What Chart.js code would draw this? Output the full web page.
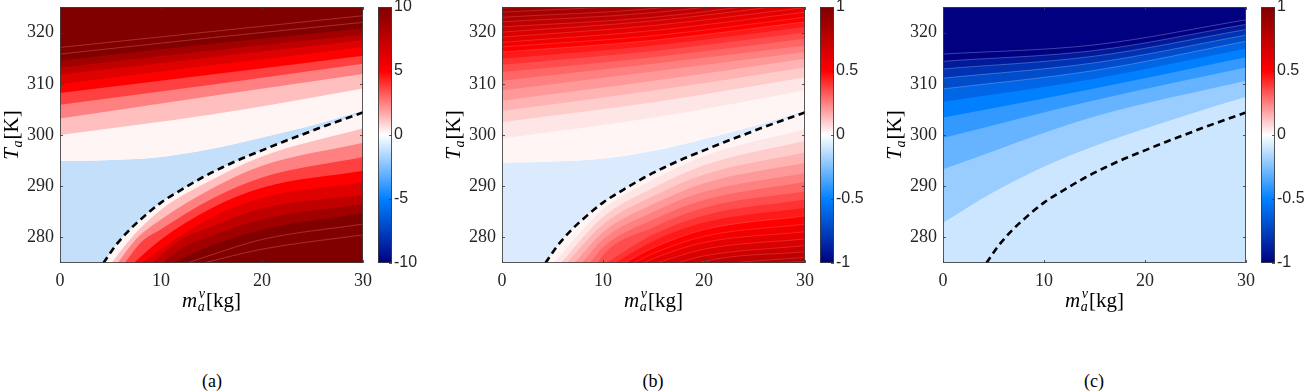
<!DOCTYPE html>
<html>
<head>
<meta charset="utf-8">
<title>contour panels</title>
<script src="https://cdn.jsdelivr.net/npm/chart.js@4.4.1/dist/chart.umd.min.js"></script>
<style>
  body { margin: 0; width: 1310px; height: 391px; background: #fff; position: relative; overflow: hidden; }
  canvas { position: absolute; }
  .cap { position: absolute; top: 371px; width: 60px; text-align: center; font: 18px "Liberation Serif", serif; line-height: 20px; color: #000; }
</style>
</head>
<body>
<canvas id="plotA" width="380" height="330" style="left:0px;top:0px"></canvas>
<canvas id="plotB" width="380" height="330" style="left:442px;top:0px"></canvas>
<canvas id="plotC" width="380" height="330" style="left:883px;top:0px"></canvas>
<canvas id="barA" width="72" height="290" style="left:370px;top:-13px"></canvas>
<canvas id="barB" width="72" height="290" style="left:812px;top:-13px"></canvas>
<canvas id="barC" width="57" height="290" style="left:1253px;top:-13px"></canvas>
<div class="cap" style="left:182px">(a)</div>
<div class="cap" style="left:623px">(b)</div>
<div class="cap" style="left:1064px">(c)</div>
<script>
const xTicks = [0, 10, 20, 30];
const yTicks = [280, 290, 300, 310, 320];
const barTicksA = [-10, -5, 0, 5, 10];
const barTicksB = [-1, -0.5, 0, 0.5, 1];

// dashed curve, same in all three panels  [m_a^v, T_a]
const dashLine = [[4.3, 275], [5.5, 278.4], [7, 281.7], [8.5, 284.4], [10, 286.8], [12, 289.3], [14, 291.6],
  [16, 293.6], [18, 295.4], [20, 297.0], [22, 298.6], [24, 300.1], [26, 301.6], [28, 303.0], [30, 304.4]];

// ---- panel (a) ----
const aLevels = [0, 1.25, 2.5, 3.75, 5, 6.25, 7.5, 8.75, 10];
const aUpper = [
  [[0, 294.9], [5, 295.1], [10, 295.7], [15, 297.3], [20, 299.5], [25, 301.9], [30, 304.8]],
  [[0, 300.0], [15, 304.0], [30, 309.1]],
  [[0, 303.2], [15, 307.6], [30, 311.9]],
  [[0, 305.9], [15, 309.8], [30, 313.9]],
  [[0, 308.2], [15, 311.8], [30, 315.5]],
  [[0, 309.9], [15, 313.6], [30, 317.2]],
  [[0, 311.8], [15, 315.2], [30, 318.5]],
  [[0, 313.2], [15, 316.5], [30, 319.6]],
  [[0, 314.5], [15, 317.8], [30, 320.8]]
];
const aLower = [
  dashLine,
  [[5.1, 275], [7, 279.8], [10, 285.4], [15, 291.2], [20, 295.8], [30, 301.3]],
  [[5.7, 275], [7.5, 279.6], [10, 283.5], [15, 289.5], [20, 294.0], [30, 298.5]],
  [[6.4, 275], [8, 279.0], [10, 281.6], [15, 287.5], [20, 291.7], [30, 295.7]],
  [[7.3, 275], [10, 279.6], [15, 285.7], [20, 289.7], [30, 293.0]],
  [[8.1, 275], [10, 277.8], [15, 283.9], [20, 287.7], [30, 290.7]],
  [[9.1, 275], [12, 279.6], [15, 282.1], [20, 285.7], [30, 288.3]],
  [[10.1, 275], [12, 277.8], [15, 280.3], [20, 283.5], [30, 286.5]],
  [[11.2, 275], [15, 278.4], [20, 281.5], [30, 284.7]]
];
const aFaint = [
  [[0, 315.8], [15, 319.0], [30, 322.0]],
  [[0, 317.1], [15, 320.2], [30, 323.3]],
  [[12.6, 275], [15, 276.6], [20, 279.6], [30, 282.6]],
  [[14.2, 275], [20, 277.7], [30, 280.5]]
];

// ---- panel (b) ----
const bLevels = [0, 0.05, 0.1, 0.15, 0.2, 0.25, 0.3, 0.35, 0.4, 0.45, 0.5, 0.55, 0.6, 0.65, 0.7, 0.75, 0.8, 0.85, 0.9, 0.95];
const bBlueEdge = [[0, 294.6], [5, 294.8], [10, 295.4], [15, 296.9], [20, 299.2], [25, 301.8], [30, 304.8]];
const bUpperX = [0, 15, 30];
const bUpperAt0 = [294.6, 299.3, 302.5, 304.7, 306.7, 308.7, 310.6, 312.3, 313.7, 314.9, 316.2, 317.2, 318.1, 319.1, 320.1, 321.1, 322.1, 323.0, 324.0, 324.8];
const bUpperAt15 = [296.9, 303.4, 306.4, 308.7, 310.6, 312.4, 313.9, 315.2, 316.4, 317.5, 318.5, 319.4, 320.4, 321.4, 322.3, 323.0, 323.9, 324.7, 325.6, 326.4];
const bUpperAt30 = [304.8, 308.7, 311.3, 313.2, 314.9, 316.2, 317.5, 318.8, 320.0, 321.1, 322.1, 323.0, 324.0, 324.9, 325.8, 326.6, 327.4, 328.2, 329.0, 329.8];
// lower family: where each level meets the bottom edge, then T at x = 10, 15, 20, 30
const bLowerCross = [5.1, 5.8, 6.4, 7.2, 7.9, 8.7, 9.5, 10.3, 11.2, 12.1, 13.0, 14.0, 15.3, 17.3, 19.6, 22.5, 26.5];
const bLowerX = [10, 15, 20, 30];
const bLowerAt10 = [285.5, 284.0, 282.5, 281.0, 279.6, 278.1, 276.6, null, null, null, null, null, null, null, null, null, null];
const bLowerAt15 = [291.3, 289.7, 288.1, 286.5, 285.0, 283.5, 282.0, 280.6, 279.3, 278.0, 276.9, 275.9, null, null, null, null, null];
const bLowerAt20 = [295.9, 294.1, 292.3, 290.6, 288.9, 287.3, 285.8, 284.3, 282.9, 281.5, 280.2, 279.0, 277.7, 276.4, 275.3, null, null];
const bLowerAt30 = [301.1, 298.9, 296.6, 294.6, 292.6, 290.8, 289.0, 287.4, 285.8, 284.2, 282.6, 281.1, 279.7, 278.4, 277.2, 276.1, 275.3];

// ---- panel (c) ----
const cLevels = [-0.1, -0.2, -0.3, -0.4, -0.5, -0.6, -0.7, -0.8, -0.9, -1.0];
const cLightEdge = [[0, 282.8], [5, 288.8], [10, 293.8], [15, 297.8], [20, 301.2], [25, 304.4], [30, 307.4]];
const cUpperX = [0, 15, 30];
const cUpperAt0 = [282.8, 293.3, 299.4, 303.4, 306.5, 309.0, 311.1, 312.9, 314.4, 315.8];
const cUpperAt15 = [297.8, 303.6, 306.8, 309.1, 311.0, 312.6, 314.1, 315.4, 316.5, 317.6];
const cUpperAt30 = [307.4, 310.6, 313.2, 315.2, 316.9, 318.3, 319.5, 320.6, 321.6, 322.5];

const ink = '#262626';
const frameInk = 'rgba(60,60,60,0.85)';
const tickFont = { family: '"Liberation Serif", serif', size: 18 };
const barFont = { family: '"Liberation Sans", Arial, sans-serif', size: 16 };

const cmapStops = [[-1, [0, 0, 128]], [-0.5, [0, 128, 255]], [0, [255, 255, 255]], [0.5, [255, 0, 0]], [1, [128, 0, 0]]];

function cmap(v) {
    v = Math.max(-1, Math.min(1, v));
    for (let i = 0; i < cmapStops.length - 1; i++) {
        const [v0, c0] = cmapStops[i];
        const [v1, c1] = cmapStops[i + 1];
        if (v <= v1) {
            const t = (v - v0) / (v1 - v0);
            return "rgb(" + c0.map((c, j) => Math.round(c + (c1[j] - c) * t)).join(",") + ")";
        }
    }
    return "rgb(128,0,0)";
}

function bandColor(level, scale) {
    return level === 0 ? "#fff5f5" : cmap(level / scale);
}

function pts(curve) {
    return curve.map(p => ({ x: p[0], y: p[1] }));
}

function area(curve, color, fill, seam) {
    return {
        data: pts(curve),
        backgroundColor: color,
        borderColor: seam ? seam : "rgba(0,0,0,0)",
        borderWidth: seam ? 0.7 : 0,
        fill: fill,
        pointRadius: 0,
        cubicInterpolationMode: "monotone",
    };
}

function thinLine(curve, color) {
    return { data: pts(curve), borderColor: color, borderWidth: 0.7, fill: false, pointRadius: 0, cubicInterpolationMode: "monotone" };
}

function dashed() {
    return { data: pts(dashLine), borderColor: "#000", borderWidth: 2.6, borderDash: [7, 4.5], fill: false, pointRadius: 0, cubicInterpolationMode: "monotone" };
}

// build point lists for (b)
const bUpperCols = [bUpperAt0, bUpperAt15, bUpperAt30];
const bUpper = bLevels.map((lv, k) => k === 0 ? bBlueEdge : bUpperX.map((x, i) => [x, bUpperCols[i][k]]));
const bLowerCols = [bLowerAt10, bLowerAt15, bLowerAt20, bLowerAt30];
const bLower = [dashLine].concat(bLowerCross.map((x0, k) =>
    [[x0, 275]].concat(bLowerX.map((x, i) => [x, bLowerCols[i][k]]).filter(p => p[1] !== null && p[0] > x0))));

const cUpperCols = [cUpperAt0, cUpperAt15, cUpperAt30];
const cUpper = cLevels.map((lv, k) => k === 0 ? cLightEdge : cUpperX.map((x, i) => [x, cUpperCols[i][k]]));

function redSets(upper, lower, levels, scale, blue, seamFrom, faint) {
    const sets = [area(upper[0], blue, "start")];
    const seamOf = k => (levels[k] / scale >= seamFrom ? "rgba(255,150,150,0.35)" : null);
    upper.forEach((c, k) => sets.push(area(c, bandColor(levels[k], scale), "end", seamOf(k))));
    lower.forEach((c, k) => sets.push(area(c, bandColor(levels[k], scale), "start", seamOf(k))));
    faint.forEach(c => sets.push(thinLine(c, "rgba(255,140,140,0.45)")));
    sets.push(dashed());
    return sets;
}

function blueSets() {
    const sets = [area(cUpper[0], cmap(cLevels[0]), "start")];
    cUpper.forEach((c, k) => {
        const seam = cLevels[k] <= -0.6 ? "rgba(190,210,255,0.45)" : null;
        sets.push(area(c, cmap(Math.max(-1, cLevels[k] - 0.1)), "end", seam));
    });
    sets.push(dashed());
    return sets;
}

function mathFont(size, italic) {
    return (italic ? "italic " : "") + size + 'px "Liberation Serif", serif';
}

function drawMath(ctx, pieces, cx, base) {
    const widths = pieces.map(p => {
        if (p.text) {
            ctx.font = mathFont(p.size, p.it);
            return ctx.measureText(p.text).width;
        }
        ctx.font = mathFont(p.size, true);
        return Math.max(ctx.measureText(p.sub || "").width, ctx.measureText(p.sup || "").width + 1) + 1.5;
    });
    let x = cx - widths.reduce((s, w) => s + w, 0) / 2;
    ctx.textAlign = "left";
    ctx.textBaseline = "alphabetic";
    ctx.fillStyle = "#000";
    pieces.forEach((p, i) => {
        if (p.text) {
            ctx.font = mathFont(p.size, p.it);
            ctx.fillText(p.text, x, base);
        } else {
            ctx.font = mathFont(p.size, true);
            if (p.sub) ctx.fillText(p.sub, x + 0.5, base + 4);
            if (p.sup) ctx.fillText(p.sup, x + 1.5, base - 9);
        }
        x += widths[i];
    });
}

const axisTitles = {
    id: "axisTitles",
    afterDraw(chart) {
        const { ctx, chartArea: a } = chart;
        ctx.save();
        drawMath(ctx, [{ text: "m", it: true, size: 21 }, { sub: "a", sup: "v", size: 14 }, { text: "[kg]", size: 21 }],
            (a.left + a.right) / 2, a.bottom + 44);
        ctx.translate(a.left - 42, (a.top + a.bottom) / 2);
        ctx.rotate(-Math.PI / 2);
        drawMath(ctx, [{ text: "T", it: true, size: 21 }, { sub: "a", size: 14 }, { text: "[K]", size: 21 }], 0, 0);
        ctx.restore();
    },
};

const frame = {
    id: "frame",
    afterDatasetsDraw(chart) {
        const { ctx, chartArea: a, scales } = chart;
        ctx.save();
        ctx.strokeStyle = frameInk;
        ctx.lineWidth = 1;
        ctx.beginPath();
        xTicks.forEach(v => {
            const px = Math.round(scales.x.getPixelForValue(v)) + 0.5;
            ctx.moveTo(px, a.bottom); ctx.lineTo(px, a.bottom - 3);
            ctx.moveTo(px, a.top); ctx.lineTo(px, a.top + 3);
        });
        yTicks.forEach(v => {
            const py = Math.round(scales.y.getPixelForValue(v)) + 0.5;
            ctx.moveTo(a.left, py); ctx.lineTo(a.left + 3, py);
            ctx.moveTo(a.right, py); ctx.lineTo(a.right - 3, py);
        });
        ctx.stroke();
        ctx.strokeRect(a.left + 0.5, a.top + 0.5, a.width - 1, a.height - 1);
        ctx.restore();
    },
};

function noEdgePadding(s) {
    s.paddingTop = 0;
    s.paddingBottom = 0;
    s.paddingLeft = 0;
    s.paddingRight = 0;
}

const hiddenGrid = { display: false, drawTicks: false, tickLength: 0 };

function makePanel(id, datasets) {
    return new Chart(document.getElementById(id), {
        type: "line",
        data: { datasets: datasets.map((d, i) => Object.assign(d, { order: -i })) },
        options: {
            responsive: false,
            animation: false,
            events: [],
            layout: { padding: { top: 7, right: 17, left: 0, bottom: 0 } },
            plugins: { legend: { display: false }, tooltip: { enabled: false } },
            scales: {
                x: {
                    type: "linear", min: 0, max: 30,
                    afterBuildTicks: s => { s.ticks = xTicks.map(v => ({ value: v })); },
                    afterFit: s => { s.height = 67; noEdgePadding(s); },
                    grid: hiddenGrid, border: { display: false },
                    ticks: { font: tickFont, color: ink, padding: 7, maxRotation: 0 },
                },
                y: {
                    type: "linear", min: 275, max: 325,
                    afterBuildTicks: s => { s.ticks = yTicks.map(v => ({ value: v })); },
                    afterFit: s => { s.width = 60; noEdgePadding(s); },
                    grid: hiddenGrid, border: { display: false },
                    ticks: { font: tickFont, color: ink, padding: 6 },
                },
            },
        },
        plugins: [frame, axisTitles],
    });
}

function barGradient(chart) {
    const a = chart.chartArea;
    if (!a) return null;
    const g = chart.ctx.createLinearGradient(0, a.bottom, 0, a.top);
    cmapStops.forEach(([v, c]) => g.addColorStop((v + 1) / 2, "rgb(" + c.join(",") + ")"));
    return g;
}

const barFrame = {
    id: "barFrame",
    afterDatasetsDraw(chart) {
        const { ctx, chartArea: a, scales } = chart;
        ctx.save();
        ctx.strokeStyle = frameInk;
        ctx.lineWidth = 1;
        ctx.beginPath();
        scales.y.ticks.forEach(t => {
            const py = Math.round(scales.y.getPixelForValue(t.value)) + 0.5;
            ctx.moveTo(a.right, py); ctx.lineTo(a.right - 3, py);
        });
        ctx.stroke();
        ctx.strokeRect(a.left + 0.5, a.top + 0.5, a.width - 1, a.height - 1);
        ctx.restore();
    },
};

function makeBar(id, ticks) {
    const lo = ticks[0];
    const hi = ticks[ticks.length - 1];
    const el = document.getElementById(id);
    return new Chart(el, {
        type: "bar",
        data: {
            labels: [""],
            datasets: [{
                data: [[lo, hi]],
                backgroundColor: ctx => barGradient(ctx.chart),
                barPercentage: 1, categoryPercentage: 1, borderWidth: 0,
            }],
        },
        options: {
            responsive: false,
            animation: false,
            events: [],
            layout: { padding: { left: 8, top: 20, bottom: 14, right: 0 } },
            plugins: { legend: { display: false }, tooltip: { enabled: false } },
            scales: {
                x: { display: false },
                y: {
                    position: "right", min: lo, max: hi,
                    afterBuildTicks: s => { s.ticks = ticks.map(v => ({ value: v })); },
                    afterFit: s => { s.width = el.width - 22; noEdgePadding(s); },
                    grid: hiddenGrid, border: { display: false },
                    ticks: { font: barFont, color: ink, padding: 2, callback: v => String(v) },
                },
            },
        },
        plugins: [barFrame],
    });
}

makePanel("plotA", redSets(aUpper, aLower, aLevels, 10, "#c3dffa", 2, aFaint));
makePanel("plotB", redSets(bUpper, bLower, bLevels, 1, "#dbebfd", 0.5, []));
makePanel("plotC", blueSets());
makeBar("barA", barTicksA);
makeBar("barB", barTicksB);
makeBar("barC", barTicksB);
</script>
</body>
</html>
